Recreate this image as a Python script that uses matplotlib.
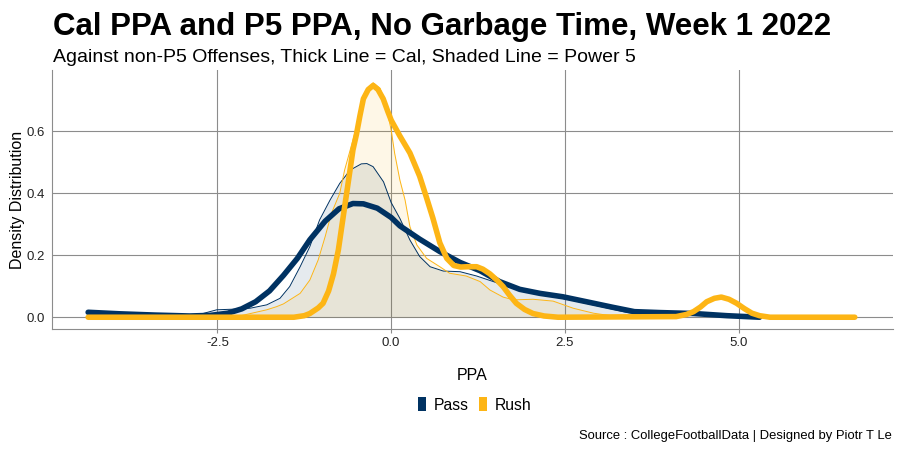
import matplotlib
matplotlib.use("Agg")
import matplotlib.pyplot as plt
from matplotlib.patches import Patch

plt.rcParams['font.family'] = ['Liberation Sans', 'DejaVu Sans']

NAVY = '#003262'
GOLD = '#FDB515'
GRID = '#8c8c8c'

# Cal densities (thick lines)
cal_pass_x = [-4.36, -3.9, -3.4, -2.9, -2.6, -2.35, -2.15, -1.95, -1.75, -1.55, -1.35,
              -1.17, -0.95, -0.75, -0.55, -0.4, -0.2, 0.0, 0.125, 0.41, 0.70, 0.99,
              1.28, 1.56, 1.85, 2.14, 2.47, 2.81, 3.19, 3.5, 3.87, 4.35, 4.83, 5.3]
cal_pass_y = [0.016, 0.011, 0.007, 0.004, 0.006, 0.013, 0.027, 0.05, 0.085, 0.135, 0.19,
              0.25, 0.31, 0.35, 0.367, 0.366, 0.352, 0.322, 0.295, 0.252, 0.212, 0.177,
              0.15, 0.115, 0.09, 0.077, 0.066, 0.05, 0.032, 0.018, 0.015, 0.012, 0.005, 0.0]

cal_rush_x = [-4.36, -1.4, -1.25, -1.17, -1.05, -0.98, -0.9, -0.83, -0.76, -0.69, -0.62,
              -0.55, -0.5, -0.45, -0.4, -0.33, -0.26, -0.19, -0.115, -0.05, 0.0, 0.125,
              0.27, 0.41, 0.51, 0.6, 0.7, 0.8, 0.9, 1.0, 1.1, 1.23, 1.32, 1.42, 1.52,
              1.61, 1.7, 1.8, 1.92, 2.04, 2.2, 2.4, 4.1, 4.25, 4.35, 4.45, 4.54, 4.65,
              4.75, 4.86, 4.97, 5.08, 5.19, 5.3, 5.45, 6.67]
cal_rush_y = [0.0, 0.0, 0.005, 0.012, 0.03, 0.045, 0.085, 0.14, 0.217, 0.325, 0.432,
              0.54, 0.59, 0.65, 0.705, 0.735, 0.748, 0.735, 0.705, 0.665, 0.636, 0.585,
              0.53, 0.455, 0.385, 0.32, 0.24, 0.19, 0.167, 0.162, 0.163, 0.163, 0.155,
              0.14, 0.12, 0.099, 0.072, 0.045, 0.025, 0.012, 0.004, 0.0, 0.002, 0.009,
              0.018, 0.033, 0.05, 0.061, 0.065, 0.058, 0.045, 0.028, 0.013, 0.005, 0.0, 0.0]

# Power 5 densities (thin shaded lines)
p5_pass_x = [-2.85, -2.74, -2.51, -2.27, -2.03, -1.79, -1.6, -1.46, -1.31, -1.17, -1.03,
             -0.88, -0.74, -0.59, -0.43, -0.35, -0.26, -0.11, 0.0, 0.125, 0.27, 0.41,
             0.56, 0.75, 0.99, 1.23, 1.47, 1.8, 2.2, 2.6, 3.0, 3.4, 3.8, 4.2]
p5_pass_y = [0.0, 0.01, 0.024, 0.026, 0.029, 0.04, 0.061, 0.099, 0.163, 0.228, 0.314,
             0.378, 0.432, 0.475, 0.495, 0.496, 0.486, 0.437, 0.37, 0.319, 0.249, 0.196,
             0.163, 0.149, 0.147, 0.133, 0.115, 0.09, 0.072, 0.055, 0.035, 0.015, 0.004, 0.0]

p5_rush_x = [-2.3, -2.18, -1.79, -1.65, -1.55, -1.31, -1.17, -1.05, -0.95, -0.86, -0.74,
             -0.67, -0.55, -0.45, -0.35, -0.26, -0.16, -0.07, 0.0, 0.05, 0.125, 0.20,
             0.27, 0.37, 0.51, 0.70, 0.84, 1.08, 1.28, 1.42, 1.61, 1.76, 2.04, 2.33,
             2.62, 2.91, 3.19, 3.5]
p5_rush_y = [0.0, 0.004, 0.024, 0.034, 0.043, 0.077, 0.12, 0.185, 0.26, 0.335, 0.40,
             0.475, 0.572, 0.658, 0.733, 0.757, 0.739, 0.679, 0.604, 0.529, 0.443, 0.378,
             0.292, 0.233, 0.19, 0.163, 0.142, 0.133, 0.115, 0.088, 0.065, 0.056, 0.058,
             0.052, 0.029, 0.013, 0.004, 0.0]

x_ticks = [-2.5, 0.0, 2.5, 5.0]
x_labels = ['-2.5', '0.0', '2.5', '5.0']
y_ticks = [0.0, 0.2, 0.4, 0.6]
y_labels = ['0.0', '0.2', '0.4', '0.6']

fig = plt.figure(figsize=(9, 4.5), dpi=100)
ax = fig.add_axes([52 / 900, 1 - 329 / 450, (893 - 52) / 900, (329 - 70) / 450])

# shaded P5 densities
ax.fill_between(p5_pass_x, p5_pass_y, color=NAVY, alpha=0.1, lw=0, zorder=2)
ax.plot(p5_pass_x, p5_pass_y, color=NAVY, lw=0.7, zorder=3)
ax.fill_between(p5_rush_x, p5_rush_y, color=GOLD, alpha=0.1, lw=0, zorder=2)
ax.plot(p5_rush_x, p5_rush_y, color=GOLD, lw=0.7, zorder=3)

# thick Cal densities
ax.plot(cal_pass_x, cal_pass_y, color=NAVY, lw=4.0, solid_capstyle='round',
        solid_joinstyle='round', zorder=4)
ax.plot(cal_rush_x, cal_rush_y, color=GOLD, lw=4.0, solid_capstyle='round',
        solid_joinstyle='round', zorder=5)

ax.set_xlim(-4.88, 7.22)
ax.set_ylim(-0.038, 0.798)
ax.set_xticks(x_ticks)
ax.set_xticklabels(x_labels)
ax.set_yticks(y_ticks)
ax.set_yticklabels(y_labels)
ax.grid(True, color=GRID, lw=0.8, zorder=1)
ax.set_axisbelow(True)
for side in ['top', 'right']:
    ax.spines[side].set_visible(False)
for side in ['left', 'bottom']:
    ax.spines[side].set_color(GRID)
    ax.spines[side].set_linewidth(0.8)
ax.tick_params(axis='x', length=3, width=0.8, color=GRID, labelsize=9.5,
               labelcolor='#222222', pad=3)
ax.tick_params(axis='y', length=0, labelsize=9.5, labelcolor='#222222', pad=5)

fig.text(53 / 900, 1 - 35 / 450, 'Cal PPA and P5 PPA, No Garbage Time, Week 1 2022',
         fontsize=22.5, fontweight='bold', ha='left', va='baseline')
fig.text(53 / 900, 1 - 62.5 / 450,
         'Against non-P5 Offenses, Thick Line = Cal, Shaded Line = Power 5',
         fontsize=14, ha='left', va='baseline')
fig.text(18 / 900, 1 - 199.5 / 450, 'Density Distribution', fontsize=11.5,
         rotation=90, ha='center', va='center')
fig.text(472 / 900, 1 - 380 / 450, 'PPA', fontsize=11.5, ha='center', va='baseline')
fig.text(892 / 900, 1 - 439 / 450, 'Source : CollegeFootballData | Designed by Piotr T Le',
         fontsize=9.4, ha='right', va='baseline')

handles = [Patch(facecolor=NAVY, edgecolor='none', label='Pass'),
           Patch(facecolor=GOLD, edgecolor='none', label='Rush')]
fig.legend(handles=handles, loc='center', bbox_to_anchor=(475 / 900, 1 - 405 / 450),
           ncol=2, frameon=False, fontsize=11.3, handlelength=0.5, handleheight=1.0,
           handletextpad=0.5, columnspacing=0.65, borderaxespad=0, borderpad=0)

fig.savefig('out.png', dpi=100)
